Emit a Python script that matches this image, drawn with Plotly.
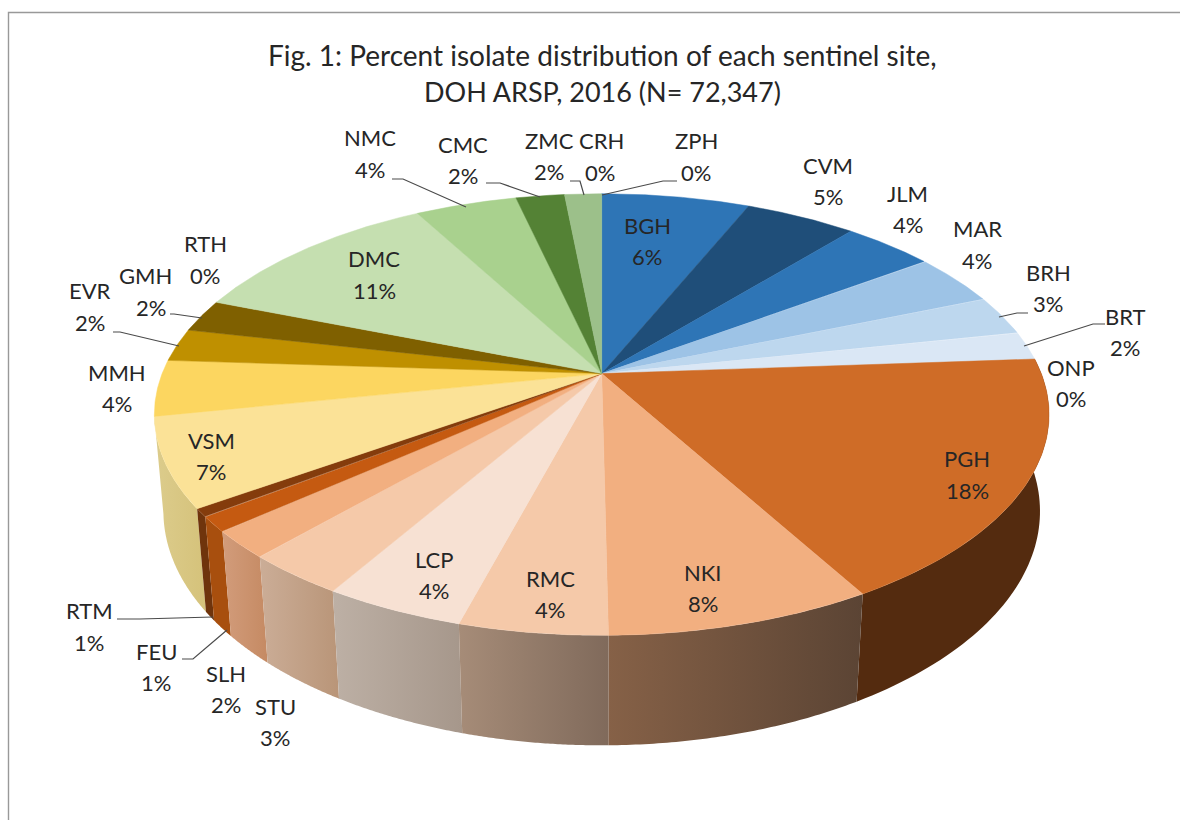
import numpy as np
import plotly.graph_objects as go

# ---- data: slices clockwise from 12 o'clock ----
SITES = ["BGH","CVM","JLM","MAR","BRH","BRT","ONP","PGH","NKI","RMC","LCP","STU","SLH",
         "FEU","RTM","VSM","MMH","EVR","GMH","RTH","DMC","NMC","CMC","ZMC","CRH","ZPH"]
SHARES = [6.4,4.8,3.9,3.8,2.9,2.1,0.0,17.8,8.1,4.5,4.3,3.1,2.0,
          1.1,0.6,6.5,4.1,2.4,2.4,0.0,11.1,4.4,2.1,1.6,0.0,0.0]
PCT_LABELS = ["6%","5%","4%","4%","3%","2%","0%","18%","8%","4%","4%","3%","2%",
              "1%","1%","7%","4%","2%","2%","0%","11%","4%","2%","2%","0%","0%"]
TITLE_LINES = ["Fig. 1: Percent isolate distribution of each sentinel site,",
               "DOH ARSP, 2016 (N= 72,347)"]

# ---- styles ----
TOP_COLORS = ["#2E75B6","#1F4E79","#2E75B6","#9DC3E6","#BDD7EE","#DAE7F5","#A9A9A9","#CF6C27","#F2AF80",
              "#F5C9A9","#F7E1D3","#F5C9A9","#F2AF80","#C55A11","#843C0C","#FBE297","#FCD660",
              "#BF9000","#7F6000","#7F6000","#C5DFB0","#A9D18E","#548235","#9CC08A","#9CC08A","#9CC08A"]
SIDE_LEFT = {"PGH":"#542B0F","NKI":"#866147","RMC":"#A68C78","LCP":"#BDB0A5","STU":"#CBAD97",
             "SLH":"#D29C7B","FEU":"#A84F0E","RTM":"#6F340C","VSM":"#DCCC8C"}
SIDE_RIGHT = {"PGH":"#542B0F","NKI":"#5B4434","RMC":"#806A5B","LCP":"#A6978B","STU":"#B99578",
              "SLH":"#C58A63","FEU":"#A84F0E","RTM":"#6F340C","VSM":"#D5C27A"}
TEXT = "#262626"
FONT = "Lato"
FS = 22

# ---- label placement in page pixels: name line centre, percent line centre ----
LABEL_POS = {"ZPH":(696,140,696,172),"CVM":(828,165,828,196),"JLM":(907,193,908,224),"MAR":(977,228,977,260),
 "BRH":(1048,272,1048,303),"BRT":(1125,316,1125,347),"ONP":(1071,367,1071,398),"PGH":(967,458,967,490),
 "NKI":(703,572,703,603),"RMC":(550,578,550,609),"LCP":(434,559,434,590),"STU":(275,706,275,737),
 "SLH":(226,673,226,704),"FEU":(156,651,156,682),"RTM":(89,610,89,642),"VSM":(211,440,211,471),
 "MMH":(117,372,117,403),"EVR":(90,290,90,322),"GMH":(145,275,151,307),"RTH":(205,243,205,275),
 "DMC":(374,258,374,290),"NMC":(370,137,370,169),"CMC":(463,144,463,175),"ZMC":(549,140,549,171),
 "CRH":(601,140,600,172),"BGH":(647,225,647,256)}
LEADERS = [[(677,181),(663,181),(602,195)],[(570,181),(580,181),(584,195)],[(486,183),(500,183),(540,197)],
           [(392,179),(403,179),(466,207)],[(1028,313),(1017,313),(999,317)],[(1105,324),(1093,324),(1024,346)],
           [(117,619),(140,619),(213,617)],[(182,659),(193,659),(227,630)],
           [(170,314),(174,314),(202,318)],[(113,332),(120,332),(179,346)]]

# ---- perspective of the disc ----
CX, CY = 601.7, 373.6
A, B, K = 439.6, 213.2, 0.1855   # top face projection
M, D = 0.020, 97.0               # bottom rim projection


def project(theta, bottom=False):
    x = np.sin(theta)
    y = np.cos(theta)
    w = 1 + K * y + (M if bottom else 0.0)
    return CX + A * x / w, CY - (B * y - (D if bottom else 0.0)) / w


fractions = np.array(SHARES) / 100.0
edges = np.concatenate([[0.0], np.cumsum(fractions)]) * 2 * np.pi
edges = edges / edges[-1] * 2 * np.pi

fig = go.Figure()

# side walls: back to front, so the nearer panels sit on top
order = sorted(range(len(SITES)), key=lambda i: -abs(np.pi - (edges[i] + edges[i + 1]) / 2))
for i in order:
    name = SITES[i]
    if name not in SIDE_LEFT or SHARES[i] == 0:
        continue
    t = np.linspace(edges[i], edges[i + 1], 60)
    xt, yt = project(t)
    xb, yb = project(t, bottom=True)
    fig.add_trace(go.Scatter(
        x=np.concatenate([xt, xb[::-1]]), y=np.concatenate([yt, yb[::-1]]),
        mode="none", fill="toself", hoverinfo="skip", showlegend=False,
        fillcolor=SIDE_LEFT[name],
        fillgradient=dict(type="horizontal",
                          colorscale=[[0, SIDE_LEFT[name]], [1, SIDE_RIGHT[name]]]),
    ))

# top face
for i, name in enumerate(SITES):
    if SHARES[i] == 0:
        continue
    t = np.linspace(edges[i], edges[i + 1], 80)
    xt, yt = project(t)
    fig.add_trace(go.Scatter(
        x=np.concatenate([[CX], xt, [CX]]), y=np.concatenate([[CY], yt, [CY]]),
        mode="lines", fill="toself", fillcolor=TOP_COLORS[i],
        line=dict(color=TOP_COLORS[i], width=0.5), showlegend=False, name=name,
        hovertemplate=f"{name}: {PCT_LABELS[i]}<extra></extra>",
    ))

annotations = []


def add_text(x, y, s, size):
    annotations.append(dict(x=x, y=y, text=s, showarrow=False, xref="x", yref="y",
                            xanchor="center", yanchor="middle",
                            font=dict(family=FONT, size=size, color=TEXT)))


for i, name in enumerate(SITES):
    nx, ny, px, py = LABEL_POS[name]
    add_text(nx, ny, name, FS)
    add_text(px, py, PCT_LABELS[i], FS)
add_text(602, 55, TITLE_LINES[0], 28)
add_text(602, 91, TITLE_LINES[1], 27)

shapes = [dict(type="path", path="M 8.5,820 L 8.5,12.5 L 1180,12.5", xref="x", yref="y",
               line=dict(color="#999999", width=1.4), layer="below")]
for pts in LEADERS:
    path = "M " + " L ".join(f"{x},{y}" for x, y in pts)
    shapes.append(dict(type="path", path=path, xref="x", yref="y",
                       line=dict(color="#4A4A4A", width=1.2)))

fig.update_layout(
    width=1180, height=820, margin=dict(l=0, r=0, t=0, b=0),
    paper_bgcolor="white", plot_bgcolor="white", showlegend=False,
    xaxis=dict(range=[0, 1180], visible=False, fixedrange=True),
    yaxis=dict(range=[820, 0], visible=False, fixedrange=True),
    annotations=annotations, shapes=shapes,
)

fig.write_html("out.html", config={"displayModeBar": False},
               post_script="document.body.style.margin='0';document.body.style.overflow='hidden';")
